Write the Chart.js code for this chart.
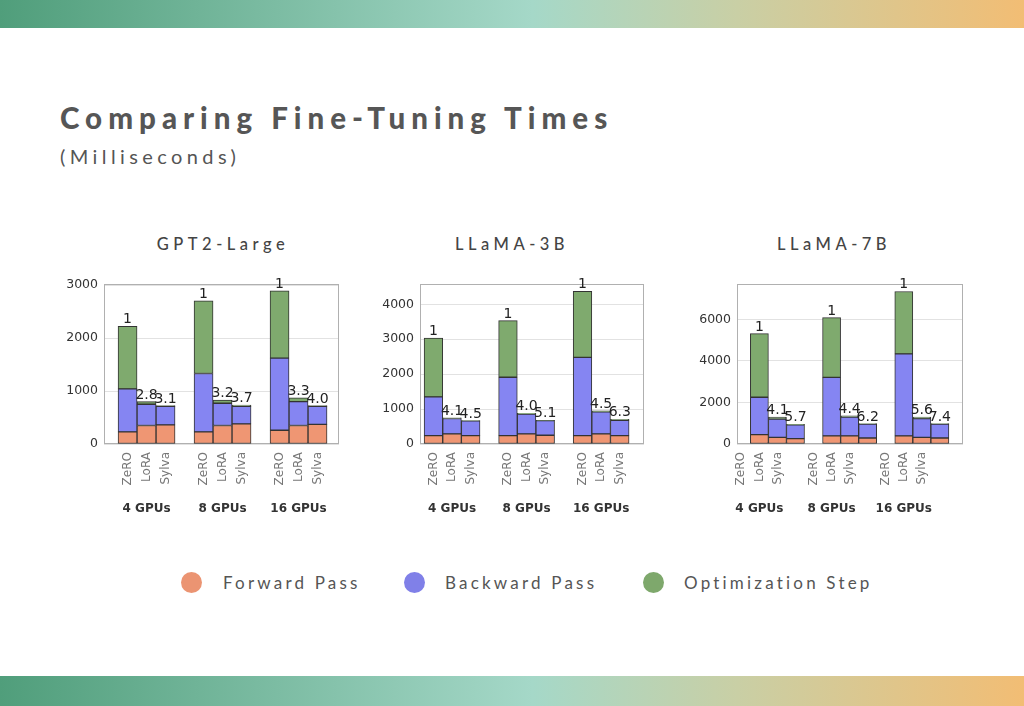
<!DOCTYPE html>
<html lang="en">
<head>
<meta charset="UTF-8" />
<title>Comparing Fine-Tuning Times</title>
<script src="https://cdn.jsdelivr.net/npm/chart.js@4.4.1/dist/chart.umd.min.js"></script>
<style>
  body { margin: 0; width: 1024px; height: 706px; background: #fff; position: relative; overflow: hidden; font-family: Lato, sans-serif; color: #555; }
  .band { position: absolute; left: 0; width: 1024px; background: linear-gradient(90deg, #509e7b 0%, #a5d8c8 52%, #c9cfa5 72%, #f2bd74 100%); }
  #topBand { top: 0; height: 28px; }
  #bottomBand { top: 676px; height: 30px; }
  .title { position: absolute; left: 60px; top: 103px; margin: 0; font-size: 29.5px; line-height: 1; font-weight: 900; letter-spacing: 6px; color: #565656; }
  .subtitle { position: absolute; left: 60px; top: 146px; font-size: 20px; line-height: 1; letter-spacing: 4.4px; color: #555; }
  .chartTitle { position: absolute; top: 236px; width: 240px; text-align: center; font-size: 16.5px; line-height: 1; font-weight: 500; letter-spacing: 4.5px; padding-left: 4px; color: #444; }
  canvas { position: absolute; top: 270px; }
  .dot { position: absolute; top: 572px; width: 21px; height: 21px; border-radius: 50%; }
  .legText { position: absolute; top: 574px; font-size: 17px; line-height: 1; letter-spacing: 3.2px; color: #555; }
</style>
</head>
<body>
<div class="band" id="topBand"></div>
<div class="band" id="bottomBand"></div>

<h1 class="title">Comparing Fine-Tuning Times</h1>
<div class="subtitle">(Milliseconds)</div>

<div class="chartTitle" style="left:99px">GPT2-Large</div>
<div class="chartTitle" style="left:388px">LLaMA-3B</div>
<div class="chartTitle" style="left:710px">LLaMA-7B</div>

<canvas id="c1" width="310" height="260" style="left:40px"></canvas>
<canvas id="c2" width="310" height="260" style="left:356px"></canvas>
<canvas id="c3" width="310" height="260" style="left:673px"></canvas>

<div class="dot" style="left:181px; background:#eb9472"></div>
<div class="legText" style="left:223px">Forward Pass</div>
<div class="dot" style="left:404px; background:#8080e8"></div>
<div class="legText" style="left:445px">Backward Pass</div>
<div class="dot" style="left:643px; background:#7ea86c"></div>
<div class="legText" style="left:684px">Optimization Step</div>

<script>
  const methods = ["ZeRO", "LoRA", "Sylva"];
  const gpuGroups = ["4 GPUs", "8 GPUs", "16 GPUs"];
  const seriesNames = ["Forward Pass", "Backward Pass", "Optimization Step"];
  const seriesColors = ["#ef9673", "#8585f2", "#7faa6e"];

  // GPT2-Large (ms), order: ZeRO/LoRA/Sylva for 4, 8, 16 GPUs
  const gpt2Forward = [230, 350, 360, 230, 350, 380, 260, 350, 370];
  const gpt2Backward = [810, 400, 350, 1100, 420, 330, 1360, 450, 340];
  const gpt2Optim = [1180, 50, 15, 1370, 60, 25, 1270, 70, 15];
  const gpt2Speedup = ["1", "2.8", "3.1", "1", "3.2", "3.7", "1", "3.3", "4.0"];
  const gpt2Ticks = [0, 1000, 2000, 3000];

  // LLaMA-3B
  const llama3Forward = [240, 290, 240, 240, 290, 250, 240, 290, 240];
  const llama3Backward = [1110, 440, 420, 1670, 570, 420, 2240, 630, 440];
  const llama3Optim = [1680, 20, 10, 1620, 20, 10, 1890, 30, 25];
  const llama3Speedup = ["1", "4.1", "4.5", "1", "4.0", "5.1", "1", "4.5", "6.3"];
  const llama3Ticks = [0, 1000, 2000, 3000, 4000];

  // LLaMA-7B
  const llama7Forward = [450, 320, 260, 390, 390, 290, 390, 320, 290];
  const llama7Backward = [1800, 880, 660, 2820, 900, 670, 3950, 900, 670];
  const llama7Optim = [3060, 100, 30, 2870, 65, 20, 3000, 80, 20];
  const llama7Speedup = ["1", "4.1", "5.7", "1", "4.4", "6.2", "1", "5.6", "7.4"];
  const llama7Ticks = [0, 2000, 4000, 6000];

  // bar slot of each method inside the groups (one empty slot between groups)
  const positions = [];
  for (let g = 0; g < gpuGroups.length; g++) {
    for (let m = 0; m < methods.length; m++) {
      positions.push(g * 4 + m);
    }
  }

  const framePlugin = {
    id: "frame",
    beforeDatasetsDraw(chart) {
      const a = chart.chartArea;
      const ctx = chart.ctx;
      ctx.save();
      ctx.strokeStyle = "#b0b0b0";
      ctx.lineWidth = 1;
      ctx.strokeRect(a.left + 0.5, a.top + 0.5, a.right - a.left - 1, a.bottom - a.top - 1);
      ctx.restore();
    },
  };

  const speedupPlugin = {
    id: "speedup",
    afterDatasetsDraw(chart) {
      const labels = chart.options.plugins.speedup.labels;
      const ctx = chart.ctx;
      const xs = chart.scales.x;
      const ys = chart.scales.y;
      ctx.save();
      ctx.font = "14px 'DejaVu Sans'";
      ctx.fillStyle = "#222";
      ctx.textAlign = "center";
      ctx.textBaseline = "alphabetic";
      for (let i = 0; i < labels.length; i++) {
        let total = 0;
        chart.data.datasets.forEach((ds) => (total += ds.data[i].y));
        ctx.fillText(labels[i], xs.getPixelForValue(positions[i]), ys.getPixelForValue(total) - 3);
      }
      ctx.restore();
    },
  };

  function makeChart(id, forward, backward, optim, speedup, yTicks, yMax, xMin, xMax, shift, padRight) {
    const series = [forward, backward, optim];
    const tickPos = positions.map((p) => p + shift);
    const groupPos = [1, 5, 9].map((p) => p + shift);
    return new Chart(document.getElementById(id), {
      type: "bar",
      data: {
        datasets: series.map((vals, s) => ({
          label: seriesNames[s],
          data: vals.map((v, i) => ({ x: positions[i], y: v })),
          backgroundColor: seriesColors[s],
          borderColor: "#333",
          borderWidth: 1,
          borderSkipped: false,
          barPercentage: 1,
          categoryPercentage: 1,
        })),
      },
      options: {
        responsive: false,
        animation: false,
        devicePixelRatio: 1,
        layout: { padding: { top: 14, right: padRight, left: 0, bottom: 0 } },
        plugins: {
          legend: { display: false },
          tooltip: { enabled: false },
          speedup: { labels: speedup },
        },
        scales: {
          x: {
            type: "linear",
            stacked: true,
            offset: false,
            bounds: "data",
            min: xMin,
            max: xMax,
            grid: { display: false, drawTicks: false, offset: false },
            border: { display: false },
            afterBuildTicks: (axis) => {
              axis.ticks = tickPos.map((v) => ({ value: v }));
            },
            afterFit: (axis) => {
              axis.height = 48;
            },
            ticks: {
              autoSkip: false,
              minRotation: 90,
              maxRotation: 90,
              padding: 8,
              color: "#777",
              font: { family: "DejaVu Sans", size: 12 },
              callback: (v, i) => methods[i % 3],
            },
          },
          x2: {
            type: "linear",
            position: "bottom",
            weight: 1,
            offset: false,
            bounds: "data",
            min: xMin,
            max: xMax,
            grid: { display: false, drawTicks: false, offset: false },
            border: { display: false },
            afterBuildTicks: (axis) => {
              axis.ticks = groupPos.map((v) => ({ value: v }));
            },
            afterFit: (axis) => {
              axis.height = 38;
            },
            ticks: {
              autoSkip: false,
              maxRotation: 0,
              padding: 10,
              color: "#333",
              font: { family: "DejaVu Sans", size: 12, weight: "bold" },
              callback: (v, i) => gpuGroups[i],
            },
          },
          y: {
            stacked: true,
            min: 0,
            max: yMax,
            grid: { color: "#e2e2e2", drawTicks: false },
            border: { display: false },
            afterBuildTicks: (axis) => {
              axis.ticks = yTicks.map((v) => ({ value: v }));
            },
            afterFit: (axis) => {
              axis.width = 64;
            },
            ticks: {
              padding: 6,
              color: "#333",
              font: { family: "DejaVu Sans", size: 12.5 },
              callback: (v) => String(v),
            },
          },
        },
      },
      plugins: [framePlugin, speedupPlugin],
    });
  }

  makeChart("c1", gpt2Forward, gpt2Backward, gpt2Optim, gpt2Speedup, gpt2Ticks, 3020, -1.24, 11.13, 0, 11);
  makeChart("c2", llama3Forward, llama3Backward, llama3Optim, llama3Speedup, llama3Ticks, 4580, -0.72, 11.3, 0, 22);
  makeChart("c3", llama7Forward, llama7Backward, llama7Optim, llama7Speedup, llama7Ticks, 7700, -1.24, 11.28, -1, 20);
</script>
</body>
</html>
